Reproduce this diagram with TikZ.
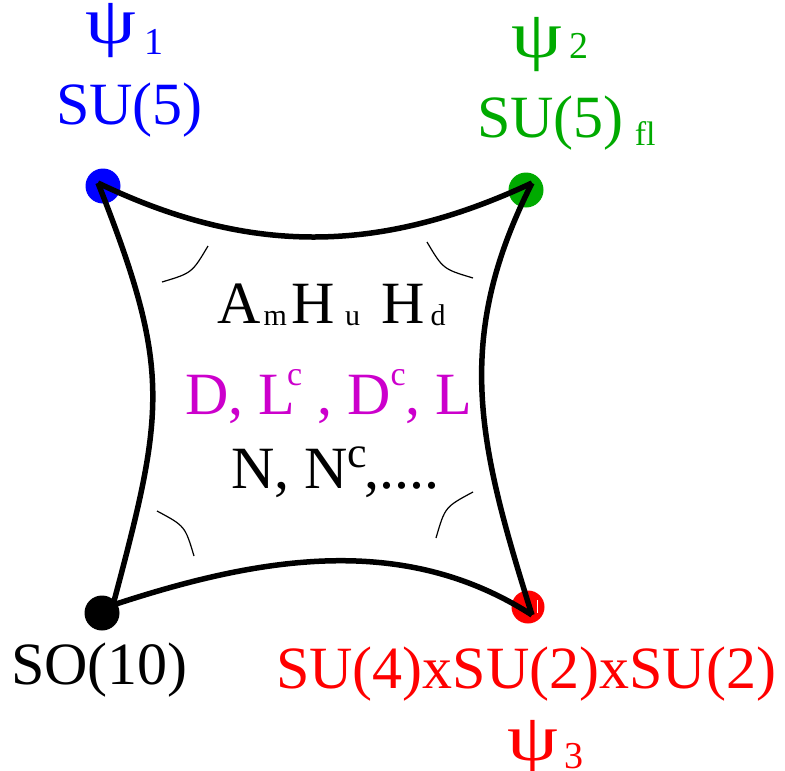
\documentclass[tikz,border=0pt]{standalone}
\usepackage{fontspec}
\usepackage{graphicx}
\setmainfont{Liberation Serif}
\usetikzlibrary{positioning,calc}
\definecolor{vacBlue}{RGB}{0,0,255}
\definecolor{vacGreen}{RGB}{0,170,0}
\definecolor{vacRed}{RGB}{255,0,0}
\definecolor{vacMagenta}{RGB}{204,0,204}
\newcommand{\bigsz}{\fontsize{60}{60}\selectfont}
\newcommand{\psisym}{\fontsize{58}{58}\selectfont\scalebox{1.4}[1.15]{ψ}}
\newcommand{\idxsz}{\fontsize{38}{38}\selectfont}
\newcommand{\subsz}{\fontsize{30}{30}\selectfont}
\newcommand{\supsz}{\fontsize{34}{34}\selectfont}
\tikzset{
    vacDot/.style={circle, fill=#1, inner sep=0pt, minimum size=35pt},
    vacEdge/.style={line width=5.5pt},
    vacAngle/.style={line width=1.2pt},
    vacLabel/.style={inner sep=0pt, anchor=base west, font=\bigsz, text=#1}
}

\begin{document}
\begin{tikzpicture}[x=1pt, y=-1pt]
\useasboundingbox (0,0) rectangle (785,771);

% vacua
\node[vacDot=vacBlue] (blue) at (103,186) {};
\node[vacDot=vacGreen] (green) at (526,190) {};
\node[vacDot=black] (black) at (102,613) {};
\node[vacDot=vacRed, minimum size=33pt] (red) at (528,607) {};
\draw[white, line width=1pt] ($(red)+(9,-7)$) -- ($(red)+(9,6)$);

\coordinate (tl) at (98,183);
\coordinate (tr) at (532,183);
\coordinate (bl) at (113,605);
\coordinate (br) at (532,615);

% edges
\draw[vacEdge] (tl) .. controls (250,256) and (380,254) .. (tr);
\draw[vacEdge] (tl) .. controls (172,370) and (165,410) .. (bl);
\draw[vacEdge] (tr) .. controls (452,341) and (479,446) .. (br);
\draw[vacEdge] (bl) .. controls (259,557) and (403,532) .. (br);

% angles
\draw[vacAngle] (162,282) .. controls (192,273) .. (208,246);
\draw[vacAngle] (427,242) .. controls (443,269) .. (473,278);
\draw[vacAngle] (157,511) .. controls (185,526) .. (194,556);
\draw[vacAngle] (436,538) .. controls (445,507) .. (473,492);

% labels
\node[vacLabel=vacBlue] (psi1) at (85,43) {\psisym\kern8pt\raisebox{-11pt}{\idxsz 1}};
\node[vacLabel=vacBlue] (su5) at (56,124) {SU(5)};
\node[vacLabel=vacGreen] (psi2) at (511,57) {\psisym\kern7pt\raisebox{-1pt}{\idxsz 2}};
\node[vacLabel=vacGreen] (su5fl) at (477,137) {SU(5)\kern11pt\raisebox{-8pt}{\fontsize{34}{34}\selectfont fl}};
\node[vacLabel=black] (so10) at (11,684) {SO(10)};
\node[vacLabel=vacRed] (su422) at (276,688) {SU(4)xSU(2)xSU(2)};
\node[vacLabel=vacRed] (psi3) at (507,760) {\psisym\kern6pt\raisebox{-8pt}{\idxsz 3}};

\node[vacLabel=black] (higgs) at (217,323)
  {A\kern3pt\raisebox{-2pt}{\subsz m}\kern5pt H\kern10pt\raisebox{-2pt}{\subsz u}\kern21pt H\kern6pt\raisebox{-2pt}{\subsz d}};
\node[vacLabel=vacMagenta] (leptons) at (185,414)
  {D, L\kern-8pt\raisebox{29pt}{\supsz c} , D\raisebox{29pt}{\supsz c}, L};
\node[vacLabel=black] (singlets) at (231,488)
  {N, N\raisebox{21pt}{\fontsize{44}{44}\selectfont c}\kern-3pt,....};
\end{tikzpicture}
\end{document}
